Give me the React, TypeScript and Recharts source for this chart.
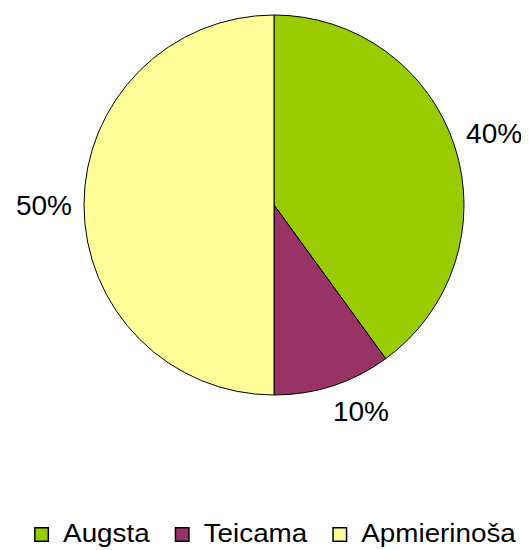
import React from "react"
import { PieChart, Pie, Cell, Legend } from "recharts"

const categories = ["Augsta", "Teicama", "Apmierinoša"]
const shares = [40, 10, 50]
const colors = ["#99CC00", "#993366", "#FFFF99"]

const data = categories.map((name, i) => ({ name, value: shares[i] }))

const RAD = Math.PI / 180
const FONT = "'Liberation Sans', Arial, sans-serif"

// Excel style "outside end": the label box touches a point just past the rim
const renderLabel = (props: any) => {
  const { cx, cy, midAngle, outerRadius, percent } = props
  const text = `${Math.round(percent * 100)}%`
  const cos = Math.cos(midAngle * RAD)
  const sin = Math.sin(midAngle * RAD)
  const halfW = 28
  const halfH = 14
  const d = Math.min(
    Math.abs(cos) > 1e-6 ? halfW / Math.abs(cos) : Infinity,
    Math.abs(sin) > 1e-6 ? halfH / Math.abs(sin) : Infinity
  )
  const r = outerRadius + 12 + d
  const x = cx + r * cos + (Math.abs(sin) > 0.8 ? 20 * Math.sign(cos) : 0)
  const y = cy - r * sin
  return (
    <text
      x={x}
      y={y}
      textAnchor="middle"
      dominantBaseline="central"
      fill="#000"
      fontSize={28}
      fontFamily={FONT}
    >
      {text}
    </text>
  )
}

let ctx: CanvasRenderingContext2D | null = null
const measure = (s: string, font: string) => {
  if (!ctx) ctx = document.createElement("canvas").getContext("2d")
  if (!ctx) return s.length * 12
  ctx.font = font
  return ctx.measureText(s).width
}

// legend drawn in series order, squares with a black outline
const LegendContent = () => {
  const fontSize = 26
  const sx = 1.07
  const box = 15
  const gap = 14
  const itemGap = 25
  const widths = categories.map(
    (c) => box + gap + measure(c, `${fontSize}px 'Liberation Sans'`) * sx
  )
  const total = widths.reduce((a, b) => a + b, 0) + itemGap * (categories.length - 1)
  let x = 267 - total / 2
  return (
    <svg width={521} height={40} style={{ display: "block" }}>
      {categories.map((c, i) => {
        const x0 = x
        x += widths[i] + itemGap
        return (
          <g key={c}>
            <rect x={x0 + 0.75} y={9.75} width={box - 1.5} height={box - 1.5} fill={colors[i]} stroke="#000" strokeWidth={1.5} />
            <text
              transform={`translate(${x0 + box + gap}, 24) scale(${sx}, 1)`}
              fontSize={fontSize}
              fontFamily={FONT}
              fill="#000"
            >
              {c}
            </text>
          </g>
        )
      })}
    </svg>
  )
}

export default function App() {
  return (
    <div style={{ width: 521, height: 542, background: "#fff" }}>
      <PieChart width={521} height={542} margin={{ top: 0, right: 0, bottom: 0, left: 0 }}>
        <Pie
          data={data}
          dataKey="value"
          nameKey="name"
          cx={266}
          cy={197}
          outerRadius={190}
          startAngle={90}
          endAngle={-270}
          stroke="#000"
          strokeWidth={1}
          label={renderLabel}
          labelLine={false}
          isAnimationActive={false}
        >
          {data.map((d, i) => (
            <Cell key={d.name} fill={colors[i]} />
          ))}
        </Pie>
        <Legend
          content={<LegendContent />}
          wrapperStyle={{ position: "absolute", left: 0, top: 510, width: 521 }}
        />
      </PieChart>
    </div>
  )
}
